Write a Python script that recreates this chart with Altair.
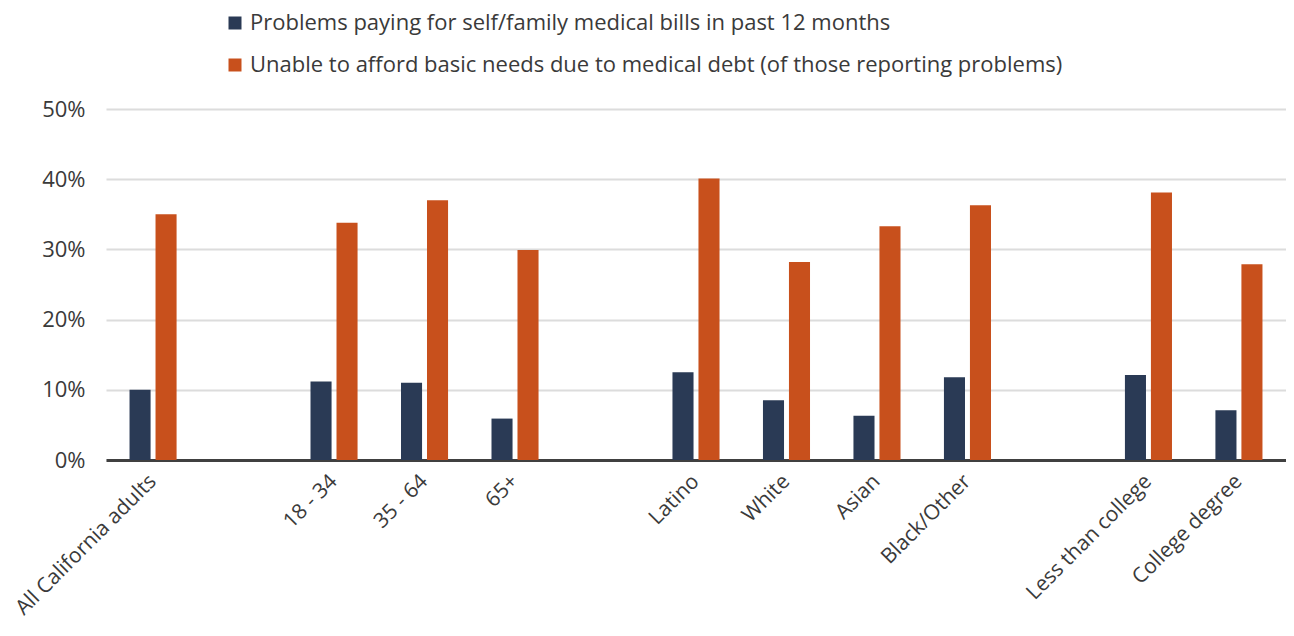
import altair as alt
import pandas as pd

categories = ["All California adults", "18 - 34", "35 - 64", "65+", "Latino", "White",
              "Asian", "Black/Other", "Less than college", "College degree"]
problems = [10.0, 11.2, 11.0, 5.9, 12.5, 8.5, 6.3, 11.8, 12.1, 7.1]
unable = [35.0, 33.8, 37.0, 29.9, 40.1, 28.2, 33.3, 36.3, 38.1, 27.9]
series = ["Problems paying for self/family medical bills in past 12 months",
          "Unable to afford basic needs due to medical debt (of those reporting problems)"]
colors = ["#2a3a55", "#c8501c"]
x_order = ["All California adults", " ", "18 - 34", "35 - 64", "65+", "  ",
           "Latino", "White", "Asian", "Black/Other", "   ",
           "Less than college", "College degree"]
y_ticks = [0, 10, 20, 30, 40, 50]

rows = []
for c, p, u in zip(categories, problems, unable):
    rows.append({"group": c, "series": series[0], "value": p})
    rows.append({"group": c, "series": series[1], "value": u})
df = pd.DataFrame(rows)

FONT = "Open Sans"
TXT = "#3a3a3a"
FS = 22

chart = alt.Chart(df).mark_bar().encode(
    x=alt.X("group:N", sort=x_order,
            scale=alt.Scale(domain=x_order, paddingInner=0.48, paddingOuter=0.26),
            axis=alt.Axis(title=None, labelAngle=-45, labelAlign="right", labelBaseline="middle",
                          ticks=False, domain=True, domainColor="#404040", domainWidth=3,
                          labelFont=FONT, labelFontSize=21, labelColor=TXT, labelPadding=18,
                          labelLimit=400, grid=False)),
    xOffset=alt.XOffset("series:N", sort=series,
                        scale=alt.Scale(domain=series, paddingInner=0.19, paddingOuter=0)),
    y=alt.Y("value:Q", scale=alt.Scale(domain=[0, 50], nice=False),
            axis=alt.Axis(title=None, values=y_ticks, labelExpr="datum.value + '%'",
                          ticks=False, domain=False, grid=True, gridColor="#dcdcdc", gridWidth=2,
                          labelFont=FONT, labelFontSize=FS, labelColor=TXT, labelPadding=21)),
    color=alt.Color("series:N", sort=series,
                    scale=alt.Scale(domain=series, range=colors),
                    legend=alt.Legend(title=None, orient="none", legendX=118, legendY=-97,
                                      direction="vertical", symbolType="square", symbolSize=169,
                                      symbolStrokeWidth=0, labelFont=FONT, labelFontSize=FS,
                                      labelColor=TXT, labelOffset=4, rowPadding=20,
                                      labelLimit=1000)),
).properties(
    width=1180, height=351,
    autosize=alt.AutoSizeParams(type="none"),
    padding={"left": 98, "top": 101, "right": 0, "bottom": 160},
).configure_view(stroke=None)

chart.save("out.html", embed_options={"renderer": "svg", "actions": False})
